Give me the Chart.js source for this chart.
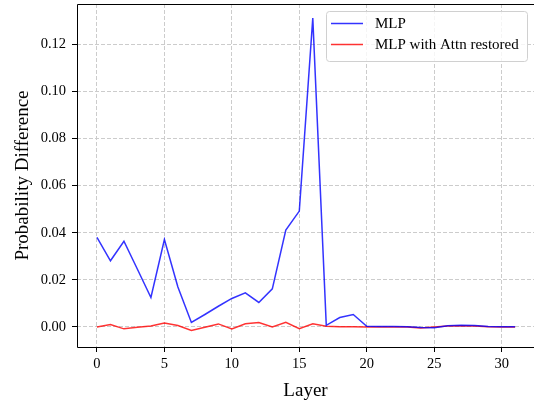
<!DOCTYPE html>
<html>
<head>
  <title>Probability Difference by Layer</title>
  <script src="https://cdn.jsdelivr.net/npm/chart.js"></script>
  <style>
    html, body { margin: 0; padding: 0; overflow: hidden; background: #fff; }
  </style>
</head>
<body>
  <canvas id="layerChart" width="534" height="406"></canvas>

  <script>
    const layers = [0, 1, 2, 3, 4, 5, 6, 7, 8, 9, 10, 11, 12, 13, 14, 15,
                    16, 17, 18, 19, 20, 21, 22, 23, 24, 25, 26, 27, 28, 29, 30, 31];
    const mlp = [0.0380, 0.0281, 0.0364, 0.0245, 0.0125, 0.0371, 0.0170, 0.0019,
                 0.0053, 0.0088, 0.0121, 0.0145, 0.0104, 0.0162, 0.0411, 0.0492,
                 0.1311, 0.0007, 0.0040, 0.0053, 0.0003, 0.0002, 0.0002, 0.0001,
                 -0.0002, -0.0003, 0.0005, 0.0007, 0.0006, 0.0002, 0.0001, 0.0001];
    const mlpAttn = [0.0000, 0.0010, -0.0008, -0.0001, 0.0004, 0.0017, 0.0006, -0.0015,
                     -0.0001, 0.0013, -0.0008, 0.0014, 0.0019, 0.0000, 0.0020, -0.0007,
                     0.0014, 0.0003, 0.0001, 0.0001, 0.0000, 0.0000, 0.0000, 0.0000,
                     -0.0004, 0.0000, 0.0004, 0.0005, 0.0004, 0.0001, 0.0000, 0.0000];
    const xTicks = [0, 5, 10, 15, 20, 25, 30];
    const yTicks = [0, 0.02, 0.04, 0.06, 0.08, 0.10, 0.12];
    const seriesNames = ['MLP', 'MLP with Attn restored'];
    const seriesColors = ['rgba(0, 0, 255, 0.8)', 'rgba(255, 0, 0, 0.8)'];

    const serif = 'Liberation Serif, Times New Roman, serif';

    // legend box drawn inside the plot, top right
    const boxLegend = {
      id: 'boxLegend',
      afterDatasetsDraw(chart) {
        const ctx = chart.ctx;
        ctx.save();
        ctx.beginPath();
        ctx.roundRect(326.5, 11.5, 201, 50, 3);
        ctx.fillStyle = 'rgba(255, 255, 255, 0.8)';
        ctx.fill();
        ctx.strokeStyle = '#d0d0d0';
        ctx.lineWidth = 1;
        ctx.stroke();
        seriesNames.forEach((name, i) => {
          const y = 23.5 + i * 21;
          ctx.beginPath();
          ctx.moveTo(331, y);
          ctx.lineTo(363, y);
          ctx.strokeStyle = seriesColors[i];
          ctx.lineWidth = 1.5;
          ctx.stroke();
          ctx.fillStyle = '#000';
          ctx.font = '15px ' + serif;
          ctx.textBaseline = 'middle';
          ctx.fillText(name, 375, y + 0.5);
        });
        ctx.restore();
      },
      afterDraw(chart) {
        // frame: left, top, bottom (right edge falls just outside the picture)
        const a = chart.chartArea;
        const l = Math.round(a.left) + 0.5, t = Math.round(a.top) + 0.5;
        const b = Math.round(a.bottom) + 0.5, r = chart.width + 2;
        const ctx = chart.ctx;
        ctx.save();
        ctx.strokeStyle = '#000';
        ctx.lineWidth = 1;
        ctx.beginPath();
        ctx.moveTo(r, t);
        ctx.lineTo(l, t);
        ctx.lineTo(l, b);
        ctx.lineTo(r, b);
        ctx.stroke();
        ctx.restore();
      }
    };

    const ctx = document.getElementById('layerChart').getContext('2d');
    new Chart(ctx, {
      type: 'line',
      data: {
        datasets: [mlp, mlpAttn].map((vals, i) => ({
          label: seriesNames[i],
          data: vals.map((v, j) => ({ x: layers[j], y: v })),
          borderColor: seriesColors[i],
          borderWidth: 1.5,
          pointRadius: 0,
          tension: 0,
          fill: false
        }))
      },
      options: {
        responsive: false,
        animation: false,
        layout: { padding: { left: 0, top: 4, right: 0, bottom: 0 } },
        plugins: {
          legend: { display: false },
          tooltip: { enabled: false }
        },
        scales: {
          x: {
            type: 'linear',
            min: -1.48,
            max: 32.4,
            afterBuildTicks: s => { s.ticks = xTicks.map(v => ({ value: v })); },
            afterFit: s => { s.height = 59; s.paddingLeft = 0; s.paddingRight = 0; },
            grid: {
              color: '#cccccc',
              tickColor: '#000',
              tickLength: 5,
              tickBorderDash: []
            },
            border: { display: false, dash: [4, 2] },
            ticks: {
              color: '#000',
              padding: 3,
              maxRotation: 0,
              font: { family: serif, size: 14.5 }
            },
            title: {
              display: true,
              text: 'Layer',
              color: '#000',
              font: { family: serif, size: 19 },
              padding: { top: 0, bottom: 4 }
            }
          },
          y: {
            min: -0.0085,
            max: 0.1371,
            afterBuildTicks: s => { s.ticks = yTicks.map(v => ({ value: v })); },
            afterFit: s => { s.width = 77; s.paddingTop = 0; s.paddingBottom = 0; },
            grid: {
              color: '#cccccc',
              tickColor: '#000',
              tickLength: 5,
              tickBorderDash: []
            },
            border: { display: false, dash: [4, 2] },
            ticks: {
              color: '#000',
              padding: 6,
              font: { family: serif, size: 14.5 },
              callback: v => v.toFixed(2)
            },
            title: {
              display: true,
              text: 'Probability Difference',
              color: '#000',
              font: { family: serif, size: 19 },
              padding: { top: 12, bottom: 0 }
            }
          }
        }
      },
      plugins: [boxLegend]
    });
  </script>
</body>
</html>
